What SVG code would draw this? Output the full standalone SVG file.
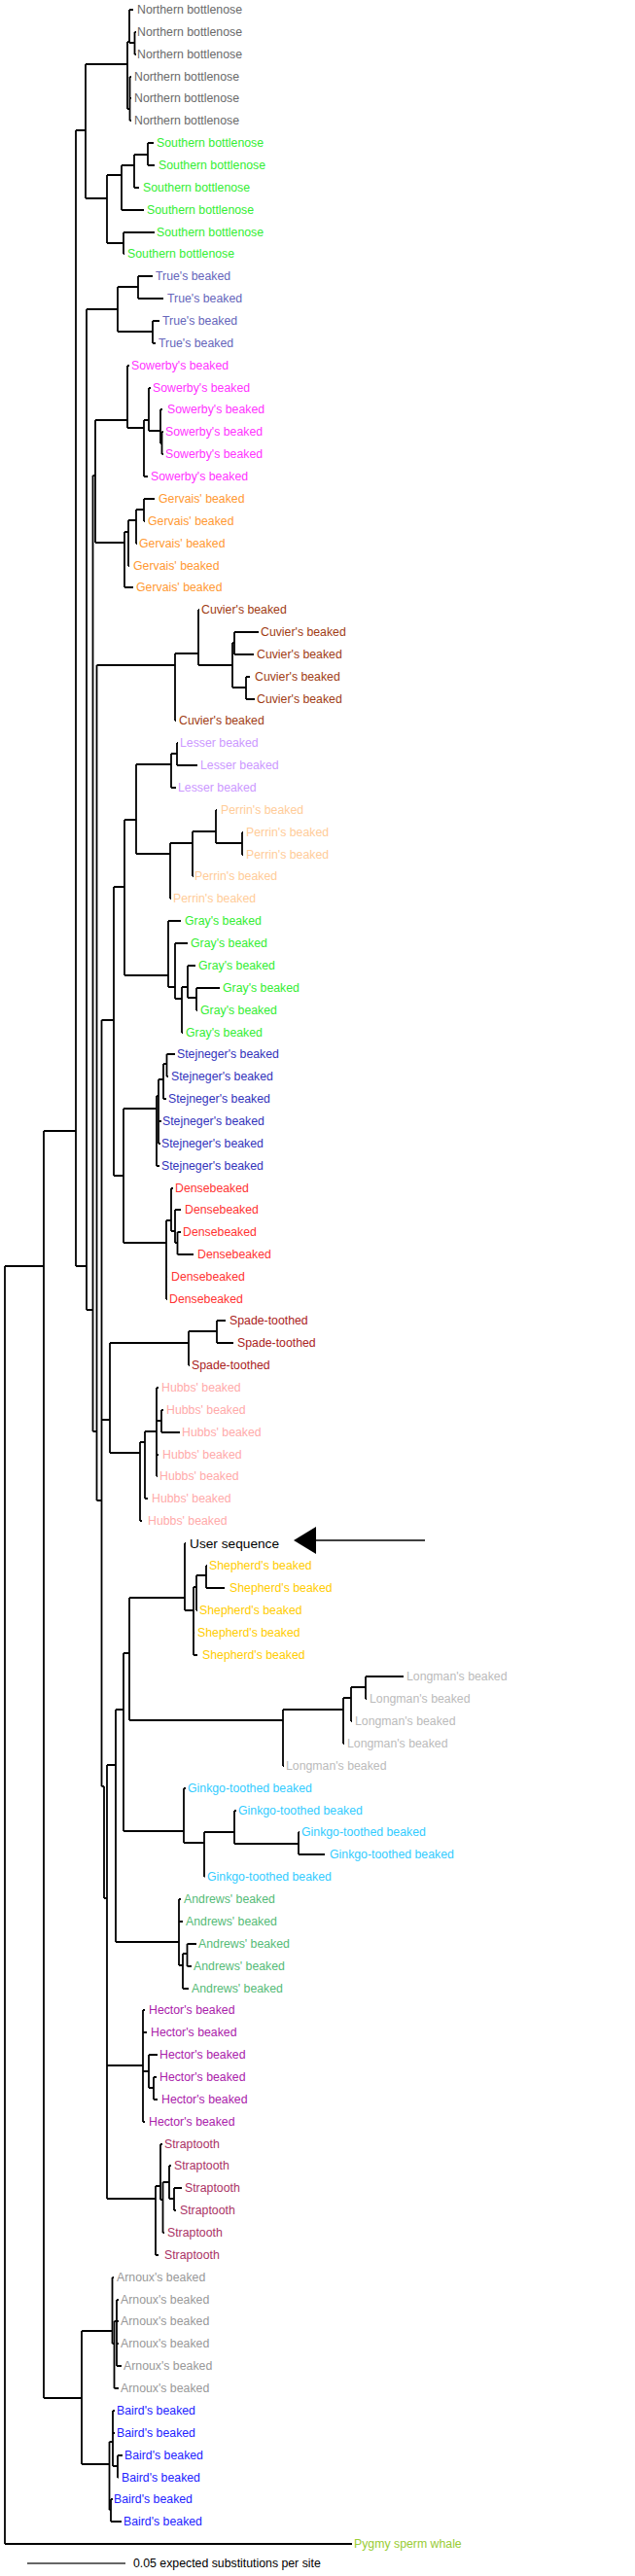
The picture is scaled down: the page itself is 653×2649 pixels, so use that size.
<svg xmlns="http://www.w3.org/2000/svg" width="653" height="2649" viewBox="0 0 653 2649">
<style>
text{font-family:"Liberation Sans",Arial,sans-serif;font-size:12.3px;dominant-baseline:central}
.br path{fill:none;stroke:#000;stroke-width:1.8}
.nb{fill:#6a6a6a}.sb{fill:#33ee33}.tr{fill:#6666bb}.sw{fill:#ff33ff}.gv{fill:#ff9933}.cu{fill:#a03c14}
.le{fill:#cc99ff}.pe{fill:#ffcc99}.gr{fill:#33ee33}.st{fill:#3333bb}.de{fill:#ff3333}.sp{fill:#aa2222}
.hu{fill:#ffaaaa}.us{fill:#000;font-size:13.7px}.sh{fill:#ffcc00}.lo{fill:#bbbbbb}.gk{fill:#33ccff}
.an{fill:#55bb77}.he{fill:#aa22aa}.sr{fill:#aa3366}.ar{fill:#999999}.ba{fill:#2222ff}.py{fill:#99cc33}
</style>
<g id="connectors" class="br">
<path d="M5,1302V2616M5,1302H45M5,2616H362"/>
<path d="M45,1163V2466M45,1163H78M45,2466H84"/>
<path d="M78,134V1302M78,134H88M78,1302H89"/>
<path d="M88,66V204M88,66H131M88,204H110"/>
<path d="M131,43V112M131,43H133M131,112H133.5"/>
<path d="M133,10V44M133,10H137M133,44H138.5"/>
<path d="M138.5,33V56M138.5,33H140M138.5,56H140"/>
<path d="M133.5,79V124M133.5,79H135M133.5,101H135M133.5,124H135"/>
<path d="M110,180V250M110,180H125M110,250H127"/>
<path d="M125,170V216M125,170H138M125,216H148"/>
<path d="M138,159V193M138,159H152M138,193H143"/>
<path d="M152,147V170M152,147H158M152,170H159"/>
<path d="M127,239V261M127,239H159M127,261H128"/>
<path d="M89,318V1347M89,318H121M89,1347H95.5"/>
<path d="M121,295V341M121,295H142M121,341H157"/>
<path d="M142,284V307M142,284H157M142,307H168"/>
<path d="M157,330V353M157,330H164M157,353H160"/>
<path d="M95.5,489V1472M95.5,489H98M95.5,1472H99.5"/>
<path d="M98,432V558M98,432H131M98,558H128"/>
<path d="M131,376V440M131,376H133M131,440H148"/>
<path d="M148,432V490M148,432H153M148,490H152"/>
<path d="M153,399V443M153,399H155M153,443H165"/>
<path d="M165,421V456M165,421H167M165,456H166.5"/>
<path d="M166.5,444V467M166.5,444H168M166.5,467H168"/>
<path d="M128,547V604M128,547H132M128,604H137"/>
<path d="M132,535V582M132,535H140M132,582H133"/>
<path d="M140,524V559M140,524H148M140,559H141"/>
<path d="M148,513V536M148,513H159M148,536H149"/>
<path d="M99.5,684V1543M99.5,684H180M99.5,1543H104.5"/>
<path d="M180,672V741M180,672H204M180,741H181"/>
<path d="M204,627V684M204,627H205M204,684H239"/>
<path d="M239,661V707M239,661H241M239,707H253"/>
<path d="M241,650V673M241,650H266M241,673H261"/>
<path d="M253,696V719M253,696H257M253,719H262"/>
<path d="M104.5,1049V1837M104.5,1049H117M104.5,1460H113M104.5,1837H107"/>
<path d="M117,912V1209M117,912H128M117,1209H127"/>
<path d="M128,843V1003M128,843H140M128,1003H173"/>
<path d="M140,786V878M140,786H176M140,878H175"/>
<path d="M176,775V810M176,775H182M176,810H181"/>
<path d="M182,764V787M182,764H183M182,787H203"/>
<path d="M175,867V924M175,867H198M175,924H176"/>
<path d="M198,855V901M198,855H222M198,901H199"/>
<path d="M222,833V867M222,833H223M222,867H249"/>
<path d="M249,856V879M249,856H250M249,879H250"/>
<path d="M173,947V1015M173,947H186M173,1015H180"/>
<path d="M180,970V1027M180,970H193M180,1027H187"/>
<path d="M187,1015V1062M187,1015H193M187,1062H188"/>
<path d="M193,993V1026M193,993H201M193,1026H202"/>
<path d="M202,1016V1039M202,1016H226M202,1039H203"/>
<path d="M127,1140V1278M127,1140H161M127,1278H171"/>
<path d="M161,1127V1199M161,1127H163M161,1199H164"/>
<path d="M163,1110V1176M163,1110H168M163,1153H166M163,1176H165"/>
<path d="M168,1094V1130M168,1094H171.5M168,1130H171"/>
<path d="M171.5,1084V1107M171.5,1084H180M171.5,1107H173"/>
<path d="M171,1255V1336M171,1255H176M171,1313H172M171,1336H172"/>
<path d="M176,1222V1266M176,1222H178M176,1266H180"/>
<path d="M180,1244V1278M180,1244H186M180,1278H182.5"/>
<path d="M182.5,1267V1290M182.5,1267H186M182.5,1290H199"/>
<path d="M113,1381V1494M113,1381H194M113,1494H144"/>
<path d="M194,1369V1404M194,1369H223M194,1404H195"/>
<path d="M223,1358V1381M223,1358H232M223,1381H240"/>
<path d="M144,1483V1564M144,1483H149M144,1564H146"/>
<path d="M149,1472V1541M149,1472H161M149,1541H152"/>
<path d="M161,1427V1518M161,1427H163M161,1461H166M161,1496H163M161,1518H162"/>
<path d="M166,1450V1473M166,1450H168M166,1473H185"/>
<path d="M107,1837V1952M107,1952H110"/>
<path d="M110,1815V2261M110,1815H119M110,2124H147M110,2261H160"/>
<path d="M119,1758V1997M119,1758H127M119,1997H184"/>
<path d="M127,1700V1883M127,1700H133M127,1883H189"/>
<path d="M133,1643V1769M133,1643H190M133,1769H291"/>
<path d="M190,1587V1656M190,1587H191M190,1656H199"/>
<path d="M199,1632V1702M199,1632H202M199,1679H200M199,1702H203"/>
<path d="M202,1620V1656M202,1620H212M202,1656H203"/>
<path d="M212,1610V1633M212,1610H213M212,1633H231"/>
<path d="M291,1758V1816M291,1758H353M291,1816H292"/>
<path d="M353,1746V1793M353,1746H361M353,1793H354"/>
<path d="M361,1735V1770M361,1735H376M361,1770H362"/>
<path d="M376,1724V1747M376,1724H415M376,1747H377"/>
<path d="M189,1839V1895M189,1839H191M189,1895H210"/>
<path d="M210,1884V1930M210,1884H241M210,1930H210.5"/>
<path d="M241,1862V1896M241,1862H243M241,1896H307"/>
<path d="M307,1884V1907M307,1884H308M307,1907H334"/>
<path d="M184,1953V2021M184,1953H186M184,1976H188M184,2021H188"/>
<path d="M188,2009V2045M188,2009H192.5M188,2045H194"/>
<path d="M192.5,1999V2022M192.5,1999H202M192.5,2022H197"/>
<path d="M147,2067V2182M147,2067H149M147,2090H151M147,2130H153M147,2182H149"/>
<path d="M153,2113V2147M153,2113H162M153,2147H158"/>
<path d="M158,2136V2159M158,2136H161M158,2159H162"/>
<path d="M160,2248V2319M160,2248H165M160,2319H163"/>
<path d="M165,2205V2262M165,2205H167M165,2262H167.5"/>
<path d="M167.5,2244V2296M167.5,2244H174M167.5,2296H169"/>
<path d="M174,2227V2261M174,2227H176M174,2261H179"/>
<path d="M179,2250V2273M179,2250H187M179,2273H181"/>
<path d="M84,2397V2534M84,2397H115.5M84,2534H112.5"/>
<path d="M115.5,2342V2410M115.5,2342H117M115.5,2410H117.5"/>
<path d="M117.5,2387V2456M117.5,2387H120M117.5,2456H122"/>
<path d="M120,2365V2433M120,2365H122M120,2387H122M120,2410H122M120,2433H125"/>
<path d="M112.5,2511V2581M112.5,2511H116M112.5,2581H114"/>
<path d="M116,2479V2536M116,2479H118M116,2502H118M116,2536H121"/>
<path d="M121,2525V2548M121,2525H126M121,2548H121.5"/>
<path d="M114,2570V2593M114,2570H116M114,2593H125"/>
</g>
<g id="leaves">
<g id="n0"><text class="nb" x="141" y="10">Northern bottlenose</text></g>
<g id="n1"><text class="nb" x="141" y="33">Northern bottlenose</text></g>
<g id="n2"><text class="nb" x="141" y="56">Northern bottlenose</text></g>
<g id="n3"><text class="nb" x="138" y="79">Northern bottlenose</text></g>
<g id="n4"><text class="nb" x="138" y="101">Northern bottlenose</text></g>
<g id="n5"><text class="nb" x="138" y="124">Northern bottlenose</text></g>
<g id="n6"><text class="sb" x="161" y="147">Southern bottlenose</text></g>
<g id="n7"><text class="sb" x="163" y="170">Southern bottlenose</text></g>
<g id="n8"><text class="sb" x="147" y="193">Southern bottlenose</text></g>
<g id="n9"><text class="sb" x="151" y="216">Southern bottlenose</text></g>
<g id="n10"><text class="sb" x="161" y="239">Southern bottlenose</text></g>
<g id="n11"><text class="sb" x="131" y="261">Southern bottlenose</text></g>
<g id="n12"><text class="tr" x="160" y="284">True's beaked</text></g>
<g id="n13"><text class="tr" x="172" y="307">True's beaked</text></g>
<g id="n14"><text class="tr" x="167" y="330">True's beaked</text></g>
<g id="n15"><text class="tr" x="163" y="353">True's beaked</text></g>
<g id="n16"><text class="sw" x="135" y="376">Sowerby's beaked</text></g>
<g id="n17"><text class="sw" x="157" y="399">Sowerby's beaked</text></g>
<g id="n18"><text class="sw" x="172" y="421">Sowerby's beaked</text></g>
<g id="n19"><text class="sw" x="170" y="444">Sowerby's beaked</text></g>
<g id="n20"><text class="sw" x="170" y="467">Sowerby's beaked</text></g>
<g id="n21"><text class="sw" x="155" y="490">Sowerby's beaked</text></g>
<g id="n22"><text class="gv" x="163" y="513">Gervais' beaked</text></g>
<g id="n23"><text class="gv" x="152" y="536">Gervais' beaked</text></g>
<g id="n24"><text class="gv" x="143" y="559">Gervais' beaked</text></g>
<g id="n25"><text class="gv" x="137" y="582">Gervais' beaked</text></g>
<g id="n26"><text class="gv" x="140" y="604">Gervais' beaked</text></g>
<g id="n27"><text class="cu" x="207" y="627">Cuvier's beaked</text></g>
<g id="n28"><text class="cu" x="268" y="650">Cuvier's beaked</text></g>
<g id="n29"><text class="cu" x="264" y="673">Cuvier's beaked</text></g>
<g id="n30"><text class="cu" x="262" y="696">Cuvier's beaked</text></g>
<g id="n31"><text class="cu" x="264" y="719">Cuvier's beaked</text></g>
<g id="n32"><text class="cu" x="184" y="741">Cuvier's beaked</text></g>
<g id="n33"><text class="le" x="185" y="764">Lesser beaked</text></g>
<g id="n34"><text class="le" x="206" y="787">Lesser beaked</text></g>
<g id="n35"><text class="le" x="183" y="810">Lesser beaked</text></g>
<g id="n36"><text class="pe" x="227" y="833">Perrin's beaked</text></g>
<g id="n37"><text class="pe" x="253" y="856">Perrin's beaked</text></g>
<g id="n38"><text class="pe" x="253" y="879">Perrin's beaked</text></g>
<g id="n39"><text class="pe" x="200" y="901">Perrin's beaked</text></g>
<g id="n40"><text class="pe" x="178" y="924">Perrin's beaked</text></g>
<g id="n41"><text class="gr" x="190" y="947">Gray's beaked</text></g>
<g id="n42"><text class="gr" x="196" y="970">Gray's beaked</text></g>
<g id="n43"><text class="gr" x="204" y="993">Gray's beaked</text></g>
<g id="n44"><text class="gr" x="229" y="1016">Gray's beaked</text></g>
<g id="n45"><text class="gr" x="206" y="1039">Gray's beaked</text></g>
<g id="n46"><text class="gr" x="191" y="1062">Gray's beaked</text></g>
<g id="n47"><text class="st" x="182" y="1084">Stejneger's beaked</text></g>
<g id="n48"><text class="st" x="176" y="1107">Stejneger's beaked</text></g>
<g id="n49"><text class="st" x="173" y="1130">Stejneger's beaked</text></g>
<g id="n50"><text class="st" x="167" y="1153">Stejneger's beaked</text></g>
<g id="n51"><text class="st" x="166" y="1176">Stejneger's beaked</text></g>
<g id="n52"><text class="st" x="166" y="1199">Stejneger's beaked</text></g>
<g id="n53"><text class="de" x="180" y="1222">Densebeaked</text></g>
<g id="n54"><text class="de" x="190" y="1244">Densebeaked</text></g>
<g id="n55"><text class="de" x="188" y="1267">Densebeaked</text></g>
<g id="n56"><text class="de" x="203" y="1290">Densebeaked</text></g>
<g id="n57"><text class="de" x="176" y="1313">Densebeaked</text></g>
<g id="n58"><text class="de" x="174" y="1336">Densebeaked</text></g>
<g id="n59"><text class="sp" x="236" y="1358">Spade-toothed</text></g>
<g id="n60"><text class="sp" x="244" y="1381">Spade-toothed</text></g>
<g id="n61"><text class="sp" x="197" y="1404">Spade-toothed</text></g>
<g id="n62"><text class="hu" x="166" y="1427">Hubbs' beaked</text></g>
<g id="n63"><text class="hu" x="171" y="1450">Hubbs' beaked</text></g>
<g id="n64"><text class="hu" x="187" y="1473">Hubbs' beaked</text></g>
<g id="n65"><text class="hu" x="167" y="1496">Hubbs' beaked</text></g>
<g id="n66"><text class="hu" x="164" y="1518">Hubbs' beaked</text></g>
<g id="n67"><text class="hu" x="156" y="1541">Hubbs' beaked</text></g>
<g id="n68"><text class="hu" x="152" y="1564">Hubbs' beaked</text></g>
<g id="n69"><text class="us" x="195" y="1587">User sequence</text></g>
<g id="n70"><text class="sh" x="215" y="1610">Shepherd's beaked</text></g>
<g id="n71"><text class="sh" x="236" y="1633">Shepherd's beaked</text></g>
<g id="n72"><text class="sh" x="205" y="1656">Shepherd's beaked</text></g>
<g id="n73"><text class="sh" x="203" y="1679">Shepherd's beaked</text></g>
<g id="n74"><text class="sh" x="208" y="1702">Shepherd's beaked</text></g>
<g id="n75"><text class="lo" x="418" y="1724">Longman's beaked</text></g>
<g id="n76"><text class="lo" x="380" y="1747">Longman's beaked</text></g>
<g id="n77"><text class="lo" x="365" y="1770">Longman's beaked</text></g>
<g id="n78"><text class="lo" x="357" y="1793">Longman's beaked</text></g>
<g id="n79"><text class="lo" x="294" y="1816">Longman's beaked</text></g>
<g id="n80"><text class="gk" x="193" y="1839">Ginkgo-toothed beaked</text></g>
<g id="n81"><text class="gk" x="245" y="1862">Ginkgo-toothed beaked</text></g>
<g id="n82"><text class="gk" x="310" y="1884">Ginkgo-toothed beaked</text></g>
<g id="n83"><text class="gk" x="339" y="1907">Ginkgo-toothed beaked</text></g>
<g id="n84"><text class="gk" x="213" y="1930">Ginkgo-toothed beaked</text></g>
<g id="n85"><text class="an" x="189" y="1953">Andrews' beaked</text></g>
<g id="n86"><text class="an" x="191" y="1976">Andrews' beaked</text></g>
<g id="n87"><text class="an" x="204" y="1999">Andrews' beaked</text></g>
<g id="n88"><text class="an" x="199" y="2022">Andrews' beaked</text></g>
<g id="n89"><text class="an" x="197" y="2045">Andrews' beaked</text></g>
<g id="n90"><text class="he" x="153" y="2067">Hector's beaked</text></g>
<g id="n91"><text class="he" x="155" y="2090">Hector's beaked</text></g>
<g id="n92"><text class="he" x="164" y="2113">Hector's beaked</text></g>
<g id="n93"><text class="he" x="164" y="2136">Hector's beaked</text></g>
<g id="n94"><text class="he" x="166" y="2159">Hector's beaked</text></g>
<g id="n95"><text class="he" x="153" y="2182">Hector's beaked</text></g>
<g id="n96"><text class="sr" x="169" y="2205">Straptooth</text></g>
<g id="n97"><text class="sr" x="179" y="2227">Straptooth</text></g>
<g id="n98"><text class="sr" x="190" y="2250">Straptooth</text></g>
<g id="n99"><text class="sr" x="185" y="2273">Straptooth</text></g>
<g id="n100"><text class="sr" x="172" y="2296">Straptooth</text></g>
<g id="n101"><text class="sr" x="169" y="2319">Straptooth</text></g>
<g id="n102"><text class="ar" x="120" y="2342">Arnoux's beaked</text></g>
<g id="n103"><text class="ar" x="124" y="2365">Arnoux's beaked</text></g>
<g id="n104"><text class="ar" x="124" y="2387">Arnoux's beaked</text></g>
<g id="n105"><text class="ar" x="124" y="2410">Arnoux's beaked</text></g>
<g id="n106"><text class="ar" x="127" y="2433">Arnoux's beaked</text></g>
<g id="n107"><text class="ar" x="124" y="2456">Arnoux's beaked</text></g>
<g id="n108"><text class="ba" x="120" y="2479">Baird's beaked</text></g>
<g id="n109"><text class="ba" x="120" y="2502">Baird's beaked</text></g>
<g id="n110"><text class="ba" x="128" y="2525">Baird's beaked</text></g>
<g id="n111"><text class="ba" x="125" y="2548">Baird's beaked</text></g>
<g id="n112"><text class="ba" x="117" y="2570">Baird's beaked</text></g>
<g id="n113"><text class="ba" x="127" y="2593">Baird's beaked</text></g>
<g id="n114"><text class="py" x="364" y="2616">Pygmy sperm whale</text></g>
</g>
<g id="pointer">
<path d="M437,1584H322" stroke="#000" stroke-width="1.4" fill="none"/>
<polygon points="302,1584 325,1570 325,1598" fill="#000"/>
</g>
<g id="scale">
<path d="M28,2636H129" stroke="#666" stroke-width="2" fill="none"/>
<text x="137" y="2636" fill="#000">0.05 expected substitutions per site</text>
</g>
</svg>
